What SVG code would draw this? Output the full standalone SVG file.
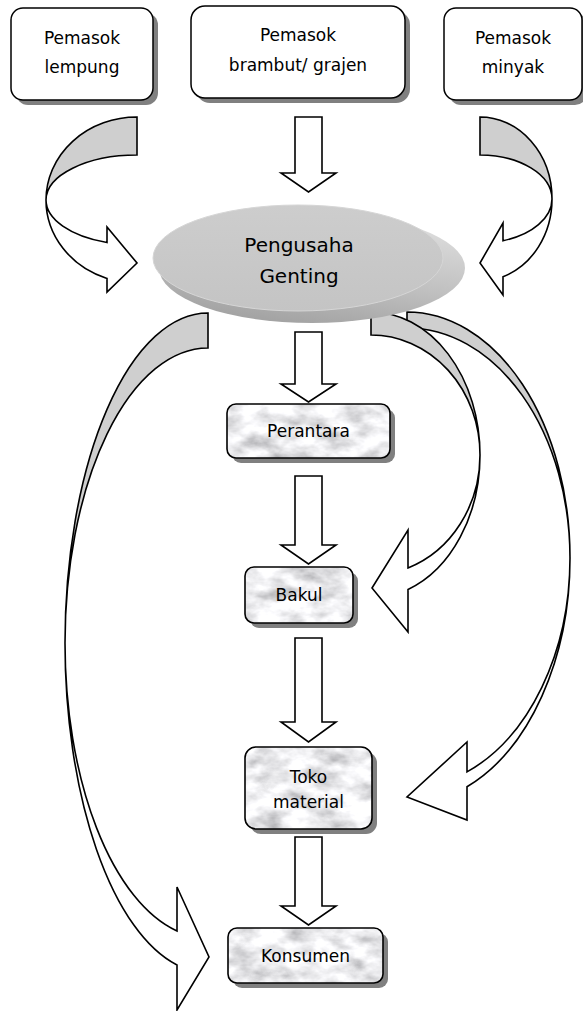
<svg xmlns="http://www.w3.org/2000/svg" width="583" height="1011" viewBox="0 0 583 1011">
  <defs>
    <style>
      .box { fill: #ffffff; stroke: #000; stroke-width: 1.5; }
      .edge { fill: none; stroke: #000; stroke-width: 1.6; }
      .shadow { fill: #808080; }
      .arr { fill: #ffffff; stroke: #000; stroke-width: 1.6; stroke-linejoin: miter; }
      .back { fill: #cfcfcf; stroke: #000; stroke-width: 1.6; stroke-linejoin: miter; }
      text { font-family: "DejaVu Sans", "Liberation Sans", sans-serif; font-size: 17px; text-anchor: middle; fill: #000; }
      .big { font-size: 20px; }
    </style>
    <!-- marble texture for the channel boxes -->
    <filter id="marble" x="0" y="0" width="1" height="1">
      <feTurbulence type="fractalNoise" baseFrequency="0.035 0.06" numOctaves="4" seed="7" result="noise"/>
      <feColorMatrix in="noise" type="matrix" values="1.1 0 0 0 0.3  1.1 0 0 0 0.3  1.1 0 0 0 0.32  0 0 0 0 1" result="grey"/>
      <feComposite in="grey" in2="SourceGraphic" operator="in"/>
    </filter>
    <linearGradient id="discSide" x1="0.85" y1="0" x2="0.45" y2="1">
      <stop offset="0" stop-color="#e2e2e2"/>
      <stop offset="0.6" stop-color="#c0c0c0"/>
      <stop offset="1" stop-color="#a4a4a4"/>
    </linearGradient>
    <linearGradient id="discFace" x1="0" y1="0" x2="0" y2="1">
      <stop offset="0" stop-color="#cdcdcd"/>
      <stop offset="1" stop-color="#c4c4c4"/>
    </linearGradient>
  </defs>

  <!-- connectors -->
  <g id="connectors">
    <!-- curved: producer to shop -->
    <path class="back" d="M407,312 A163,246 0 0 1 570,558 A163,230 0 0 0 407,328 Z"/>
    <path class="arr" d="M570,558 A163,246 0 0 1 467,786.8 L467,820 L407,797 L467,742 L467,771.9 A163,230 0 0 0 570,558 Z"/>
    <!-- curved: producer to bakul -->
    <path class="back" d="M371,312 A109,143 0 0 1 480,455 A109,120 0 0 0 371,335 Z"/>
    <path class="arr" d="M480,455 A109,143 0 0 1 408,589.5 L408,632 L372,588 L408,530 L408,567.9 A109,120 0 0 0 480,455 Z"/>
    <!-- curved: producer to consumer -->
    <path class="back" d="M208,313 A143,330 0 0 0 65,643 A143,295 0 0 1 208,348 Z"/>
    <path class="arr" d="M65,643 A143,330 0 0 0 177,965 L177,1010 L209,957 L177,887 L177,931 A143,295 0 0 1 65,643 Z"/>
    <!-- curved: clay supplier -->
    <path class="back" d="M137,117 A91,83 0 0 0 46,200 A91,45 0 0 1 137,155 Z"/>
    <path class="arr" d="M46,200 A91,83 0 0 0 107,278.4 L107,292 L137,263 L107,227 L107,242.5 A91,45 0 0 1 46,200 Z"/>
    <!-- curved: oil supplier -->
    <path class="back" d="M480,117 A72,82 0 0 1 552,199 A72,44 0 0 0 480,155 Z"/>
    <path class="arr" d="M552,199 A72,82 0 0 1 503,276.7 L503,295 L480,263 L503,223 L503,240.7 A72,44 0 0 0 552,199 Z"/>
    <!-- straight block arrows -->
    <polygon class="arr" points="295,117 322,117 322,173 336,173 308.5,192 281,173 295,173"/>
    <polygon class="arr" points="295,332 322,332 322,384 336,384 308.5,402 281,384 295,384"/>
    <polygon class="arr" points="295,476 322,476 322,545 336,545 308.5,564 281,545 295,545"/>
    <polygon class="arr" points="295,638 322,638 322,722 336,722 308.5,742 281,722 295,722"/>
    <polygon class="arr" points="295,837 322,837 322,906 336,906 308.5,925 281,906 295,906"/>
  </g>

  <!-- suppliers -->
  <g id="pemasok-lempung">
    <rect class="shadow" x="16" y="13" width="142" height="92" rx="12"/>
    <rect class="box" x="11" y="8" width="142" height="92" rx="12"/>
    <text x="82" y="44">Pemasok</text>
    <text x="82" y="73">lempung</text>
  </g>
  <g id="pemasok-brambut">
    <rect class="shadow" x="196" y="11" width="214" height="92" rx="14"/>
    <rect class="box" x="191" y="6" width="214" height="92" rx="14"/>
    <text x="298" y="41">Pemasok</text>
    <text x="298" y="71">brambut/ grajen</text>
  </g>
  <g id="pemasok-minyak">
    <rect class="shadow" x="449" y="13" width="138" height="92" rx="12"/>
    <rect class="box" x="444" y="8" width="138" height="92" rx="12"/>
    <text x="513" y="44">Pemasok</text>
    <text x="513" y="73">minyak</text>
  </g>

  <!-- producer -->
  <g id="pengusaha-genting">
    <ellipse cx="312" cy="268" rx="153" ry="55" fill="url(#discSide)"/>
    <ellipse cx="298" cy="258" rx="145" ry="53" fill="url(#discFace)" stroke="#d6d6d6" stroke-width="1"/>
    <text class="big" x="299" y="252">Pengusaha</text>
    <text class="big" x="299" y="283">Genting</text>
  </g>

  <!-- distribution channel -->
  <g id="perantara">
    <rect class="shadow" x="232" y="409" width="163" height="54" rx="9"/>
    <rect x="227" y="404" width="163" height="54" rx="9" filter="url(#marble)"/>
    <rect class="edge" x="227" y="404" width="163" height="54" rx="9"/>
    <text x="308.5" y="437">Perantara</text>
  </g>
  <g id="bakul">
    <rect class="shadow" x="250" y="572" width="108" height="56" rx="9"/>
    <rect x="245" y="567" width="108" height="56" rx="9" filter="url(#marble)"/>
    <rect class="edge" x="245" y="567" width="108" height="56" rx="9"/>
    <text x="299" y="601">Bakul</text>
  </g>
  <g id="toko-material">
    <rect class="shadow" x="250" y="752" width="127" height="82" rx="11"/>
    <rect x="245" y="747" width="127" height="82" rx="11" filter="url(#marble)"/>
    <rect class="edge" x="245" y="747" width="127" height="82" rx="11"/>
    <text x="308.5" y="783">Toko</text>
    <text x="308.5" y="808">material</text>
  </g>
  <g id="konsumen">
    <rect class="shadow" x="233" y="933" width="155" height="55" rx="9"/>
    <rect x="228" y="928" width="155" height="55" rx="9" filter="url(#marble)"/>
    <rect class="edge" x="228" y="928" width="155" height="55" rx="9"/>
    <text x="305.5" y="962">Konsumen</text>
  </g>
</svg>
